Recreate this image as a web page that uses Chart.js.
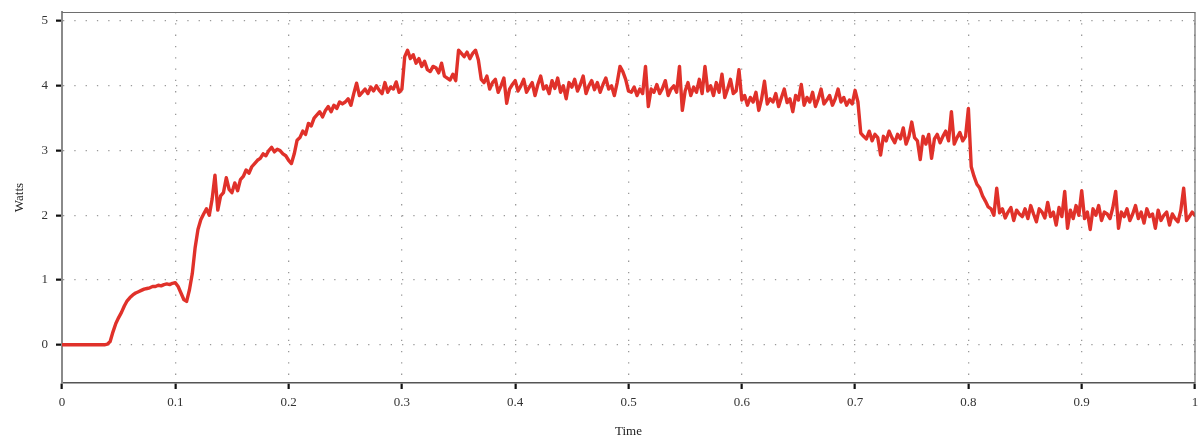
<!DOCTYPE html>
<html>
<head>
<meta charset="utf-8">
<script src="https://cdn.jsdelivr.net/npm/chart.js@4/dist/chart.umd.min.js"></script>
<style>
  html, body { margin: 0; padding: 0; background: #ffffff; }
  #wrap { width: 1198px; height: 439px; position: relative; }
</style>
</head>
<body>
<div id="wrap"><canvas id="c" width="1198" height="439"></canvas></div>
<script>
// ---- data ----
const STEP = 0.0025; // sample spacing in "Time"
const watts = [
  0,0,0,0,0,0,0,0,0,0,
  0,0,0,0,0,0,0.01,0.05,0.2,0.33,
  0.42,0.5,0.6,0.68,0.73,0.77,0.8,0.82,0.84,0.86,
  0.87,0.88,0.9,0.9,0.92,0.91,0.93,0.94,0.93,0.95,
  0.96,0.9,0.8,0.7,0.67,0.85,1.1,1.5,1.78,1.93,
  2.02,2.1,2.0,2.25,2.62,2.08,2.3,2.35,2.58,2.4,
  2.35,2.5,2.38,2.55,2.6,2.7,2.65,2.75,2.8,2.85,
  2.88,2.95,2.92,3.0,3.05,2.98,3.02,3.0,2.95,2.92,
  2.85,2.8,2.95,3.16,3.2,3.3,3.25,3.42,3.38,3.5,
  3.55,3.6,3.52,3.62,3.68,3.6,3.7,3.65,3.75,3.72,
  3.75,3.8,3.7,3.88,4.04,3.85,3.9,3.95,3.88,3.98,
  3.92,4.0,3.93,3.88,4.05,3.9,3.98,3.95,4.06,3.9,
  3.95,4.45,4.55,4.42,4.48,4.35,4.42,4.3,4.38,4.25,
  4.22,4.3,4.28,4.2,4.35,4.15,4.12,4.09,4.18,4.08,
  4.55,4.5,4.45,4.52,4.42,4.5,4.55,4.4,4.1,4.05,
  4.15,3.95,4.05,4.1,3.9,4.0,4.12,3.73,3.95,4.02,
  4.08,3.92,4.0,4.1,3.9,3.98,4.05,3.85,4.02,4.15,
  3.95,4.0,3.88,4.08,3.96,4.12,3.9,4.0,3.8,4.05,
  3.98,4.1,3.92,4.02,4.15,3.88,4.0,4.08,3.94,4.05,
  3.9,4.02,4.12,3.95,4.0,3.85,4.05,4.3,4.22,4.1,
  3.92,3.9,3.98,3.85,3.95,3.88,4.3,3.68,3.95,3.9,
  4.02,3.88,3.96,4.08,3.85,3.95,4.0,3.9,4.3,3.62,
  3.92,4.05,3.85,3.98,3.9,4.1,3.88,4.3,3.92,4.0,
  3.85,4.05,3.9,4.18,3.82,3.95,4.1,3.88,3.92,4.25,
  3.78,3.85,3.7,3.82,3.75,3.9,3.62,3.8,4.07,3.72,
  3.8,3.75,3.88,3.68,3.82,3.95,3.74,3.8,3.6,3.85,
  3.78,4.02,3.7,3.82,3.75,3.9,3.68,3.8,3.95,3.72,
  3.78,3.85,3.7,3.8,3.95,3.75,3.82,3.7,3.78,3.72,
  3.93,3.75,3.27,3.22,3.18,3.3,3.15,3.25,3.2,2.93,
  3.22,3.15,3.3,3.2,3.12,3.25,3.18,3.35,3.1,3.22,
  3.44,3.2,3.15,2.86,3.22,3.1,3.25,2.88,3.18,3.25,
  3.12,3.22,3.3,3.15,3.6,3.1,3.2,3.28,3.15,3.22,
  3.65,2.75,2.6,2.48,2.42,2.3,2.22,2.13,2.1,2.0,
  2.42,2.04,2.1,1.96,2.05,2.12,1.92,2.08,2.02,1.98,
  2.1,1.95,2.15,2.02,1.9,2.1,2.05,1.96,2.2,1.98,
  2.05,1.85,2.12,1.98,2.37,1.8,2.08,1.95,2.15,2.0,
  2.38,1.95,2.05,1.78,2.1,2.0,2.15,1.92,2.05,2.02,
  1.95,2.12,2.37,1.8,2.05,1.98,2.1,1.92,2.02,2.15,
  1.95,2.05,1.88,2.1,1.98,2.02,1.8,2.08,1.92,2.0,
  2.05,1.85,2.02,1.95,1.9,2.08,2.42,1.92,1.98,2.05,
  2.0
];
const xTicks = [0, 0.1, 0.2, 0.3, 0.4, 0.5, 0.6, 0.7, 0.8, 0.9, 1];
const yTicks = [0, 1, 2, 3, 4, 5];
const xTitle = 'Time';
const yTitle = 'Watts';

const points = watts.map((v, i) => ({ x: +(i * STEP).toFixed(4), y: v }));

const frame = {
  id: 'frame',
  afterDraw(chart) {
    const { ctx, chartArea: a } = chart;
    ctx.save();
    ctx.strokeStyle = '#6e6e6e';
    ctx.lineWidth = 1.2;
    ctx.beginPath();
    ctx.moveTo(a.left, a.top + 0.5);
    ctx.lineTo(a.right, a.top + 0.5);
    ctx.lineTo(a.right, a.bottom);
    ctx.stroke();
    ctx.restore();
  }
};

const serif = "'Liberation Serif', 'DejaVu Serif', serif";

new Chart(document.getElementById('c'), {
  type: 'line',
  data: {
    datasets: [{
      data: points,
      borderColor: '#e0312a',
      borderWidth: 3.4,
      borderJoinStyle: 'round',
      borderCapStyle: 'round',
      pointRadius: 0,
      tension: 0,
      fill: false
    }]
  },
  options: {
    responsive: false,
    animation: false,
    layout: { padding: { left: 0, right: 3, top: 12, bottom: 0 } },
    plugins: { legend: { display: false }, tooltip: { enabled: false } },
    scales: {
      x: {
        type: 'linear',
        min: 0, max: 1,
        afterBuildTicks: s => { s.ticks = xTicks.map(v => ({ value: v })); },
        afterFit: s => { s.height = 56; s.paddingLeft = 0; s.paddingRight = 0; },
        ticks: {
          callback: v => String(v),
          color: '#333',
          font: { family: serif, size: 13 },
          padding: 6,
          maxRotation: 0
        },
        grid: {
          color: '#9a9a9a',
          lineWidth: 1.3,
          drawTicks: true,
          tickLength: 6,
          tickColor: '#111',
          tickWidth: 2.2,
          tickBorderDash: []
        },
        border: { display: true, color: '#555', width: 1.6, dash: [1.3, 10] },
        title: {
          display: true, text: xTitle, color: '#222',
          font: { family: serif, size: 13 },
          padding: { top: 0, bottom: 0 }
        }
      },
      y: {
        type: 'linear',
        min: -0.59, max: 5.14,
        afterBuildTicks: s => { s.ticks = yTicks.map(v => ({ value: v })); },
        afterFit: s => { s.width = 62; s.paddingTop = 0; s.paddingBottom = 0; },
        ticks: {
          callback: v => String(v),
          color: '#333',
          font: { family: serif, size: 13 },
          padding: 8
        },
        grid: {
          color: '#9a9a9a',
          lineWidth: 1.3,
          drawTicks: true,
          tickLength: 6,
          tickColor: '#111',
          tickWidth: 2.2,
          tickBorderDash: []
        },
        border: { display: true, color: '#8a8a8a', width: 2, dash: [1.3, 10] },
        title: {
          display: true, text: yTitle, color: '#222',
          font: { family: serif, size: 13 },
          padding: { top: 12, bottom: 0 }
        }
      }
    }
  },
  plugins: [frame]
});
</script>
</body>
</html>
